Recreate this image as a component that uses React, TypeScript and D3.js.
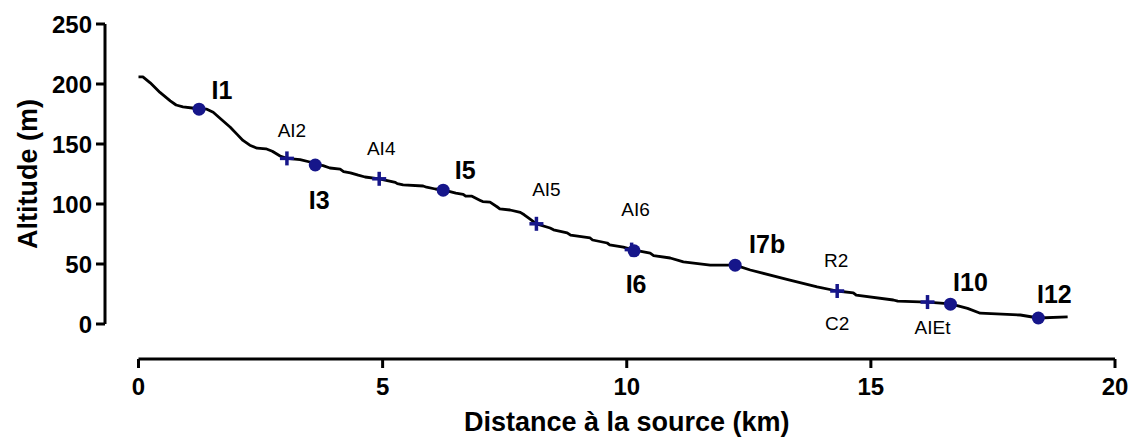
import React from "react";
import * as d3 from "d3";

// River longitudinal profile: [distance km, altitude m]
const profileDistance = [0, 0.09, 0.24, 0.44, 0.65, 0.77, 0.91, 1.1, 1.24, 1.4, 1.53, 1.71, 1.88, 2.02, 2.14, 2.28, 2.43, 2.61, 2.74, 2.9, 3.04, 3.31, 3.51, 3.62, 3.78, 3.92, 4.13, 4.2, 4.34, 4.5, 4.64, 4.93, 5.26, 5.3, 5.42, 5.83, 5.9, 6.08, 6.24, 6.5, 6.65, 6.7, 6.83, 7.0, 7.05, 7.2, 7.35, 7.4, 7.61, 7.82, 7.9, 8.0, 8.15, 8.43, 8.5, 8.78, 8.85, 9.25, 9.3, 9.6, 9.65, 9.93, 10.13, 10.48, 10.55, 10.89, 11.16, 11.71, 12.22, 12.53, 13.2, 13.3, 13.9, 14.31, 14.64, 14.7, 15.46, 15.55, 16.16, 16.63, 16.98, 17.24, 18.06, 18.43, 19.03];
const profileAltitude = [206, 206, 201, 193, 186, 182.5, 181, 180, 179, 179, 176.5, 170, 164, 158, 153, 149, 146.5, 146, 144, 140, 138, 137, 135, 133, 132, 130, 129, 127, 126, 124, 122.5, 121, 118, 117, 116, 115, 114, 112.5, 111.7, 109, 108, 106.5, 106.5, 103, 102, 101.5, 97.5, 96, 95, 93, 91, 88, 83.5, 80, 78.5, 76, 74, 71.7, 70, 67.5, 66, 64, 61.7, 59, 57, 55, 51.7, 49, 49, 45, 38, 37, 31, 27.5, 26, 24, 20, 19, 18.3, 16.7, 13, 9, 7.5, 5, 6];

// Sampling stations (circles)
const stationNames = ["I1", "I3", "I5", "I6", "I7b", "I10", "I12"];
const stationDistance = [1.24, 3.62, 6.24, 10.15, 12.22, 16.63, 18.43];
const stationAltitude = [179, 132.5, 111.5, 61, 49, 16.5, 5];
const stationLabelDx = [23, 4, 22, 2, 32, 20, 16];
const stationLabelDy = [-19, 35, -20, 33, -21, -22, -24];

// Other sites (crosses)
const siteNames = ["AI2", "AI4", "AI5", "AI6", "R2", "AIEt"];
const siteDistance = [3.04, 4.93, 8.15, 10.1, 14.31, 16.16];
const siteAltitude = [138, 121, 83.5, 62, 27.5, 18.3];
const siteLabelDx = [5, 2, 10, 4, -1, 5];
const siteLabelDy = [-28, -30, -34, -40, -31, 25];
const extraLabels = ["C2"];
const extraDistance = [14.31];
const extraAltitude = [27.5];

const xTicks = [0, 5, 10, 15, 20];
const yTicks = [0, 50, 100, 150, 200, 250];

const NAVY = "#16168a";
const FONT = "'Liberation Sans', Arial, sans-serif";

export default function App() {
  const x = d3.scaleLinear().domain([0, 20]).range([138.5, 1115]);
  const y = d3.scaleLinear().domain([0, 250]).range([324, 24]);
  const line = d3
    .line<number>()
    .x((_, i) => x(profileDistance[i]))
    .y((d) => y(d))
    .curve(d3.curveLinear);
  const pathD = line(profileAltitude) || "";
  const axisX = 105;
  const axisY = 359;

  return (
    <svg
      width={1131}
      height={437}
      style={{ position: "absolute", left: 0, top: 0, background: "#fff" }}
      fontFamily={FONT}
    >
      <rect width={1131} height={437} fill="#fff" />
      {/* Y axis */}
      <line x1={axisX} x2={axisX} y1={y(250)} y2={y(0)} stroke="#000" strokeWidth={3} />
      {yTicks.map((t) => (
        <g key={t}>
          <line x1={axisX - 9} x2={axisX} y1={y(t)} y2={y(t)} stroke="#000" strokeWidth={3} />
          <text x={axisX - 13} y={y(t)} dy="0.36em" textAnchor="end" fontSize={24} fontWeight="bold">
            {t}
          </text>
        </g>
      ))}
      <text
        transform={`translate(37, ${y(125)}) rotate(-90)`}
        textAnchor="middle"
        fontSize={27}
        fontWeight="bold"
      >
        Altitude (m)
      </text>

      {/* X axis */}
      <line x1={x(0)} x2={x(20)} y1={axisY} y2={axisY} stroke="#000" strokeWidth={3} />
      {xTicks.map((t) => (
        <g key={t}>
          <line x1={x(t)} x2={x(t)} y1={axisY} y2={axisY + 9} stroke="#000" strokeWidth={3} />
          <text x={x(t)} y={axisY + 36} textAnchor="middle" fontSize={24} fontWeight="bold">
            {t}
          </text>
        </g>
      ))}
      <text x={x(10)} y={431} textAnchor="middle" fontSize={27} fontWeight="bold">
        Distance à la source (km)
      </text>

      {/* Profile */}
      <path d={pathD} fill="none" stroke="#000" strokeWidth={2.8} strokeLinejoin="round" />

      {/* Crosses */}
      {siteNames.map((n, i) => {
        const cx = x(siteDistance[i]);
        const cy = y(siteAltitude[i]);
        return (
          <g key={n}>
            <line x1={cx - 7} x2={cx + 7} y1={cy} y2={cy} stroke={NAVY} strokeWidth={3.5} />
            <line x1={cx} x2={cx} y1={cy - 7} y2={cy + 7} stroke={NAVY} strokeWidth={3.5} />
            <text x={cx + siteLabelDx[i]} y={cy + siteLabelDy[i]} dy="0.35em" textAnchor="middle" fontSize={19}>
              {n}
            </text>
          </g>
        );
      })}
      {extraLabels.map((n, i) => (
        <text
          key={n}
          x={x(extraDistance[i])}
          y={y(extraAltitude[i]) + 32}
          dy="0.35em"
          textAnchor="middle"
          fontSize={19}
        >
          {n}
        </text>
      ))}

      {/* Stations */}
      {stationNames.map((n, i) => {
        const cx = x(stationDistance[i]);
        const cy = y(stationAltitude[i]);
        return (
          <g key={n}>
            <circle cx={cx} cy={cy} r={6.5} fill={NAVY} />
            <text
              x={cx + stationLabelDx[i]}
              y={cy + stationLabelDy[i]}
              dy="0.35em"
              textAnchor="middle"
              fontSize={25}
              fontWeight="bold"
            >
              {n}
            </text>
          </g>
        );
      })}
    </svg>
  );
}
